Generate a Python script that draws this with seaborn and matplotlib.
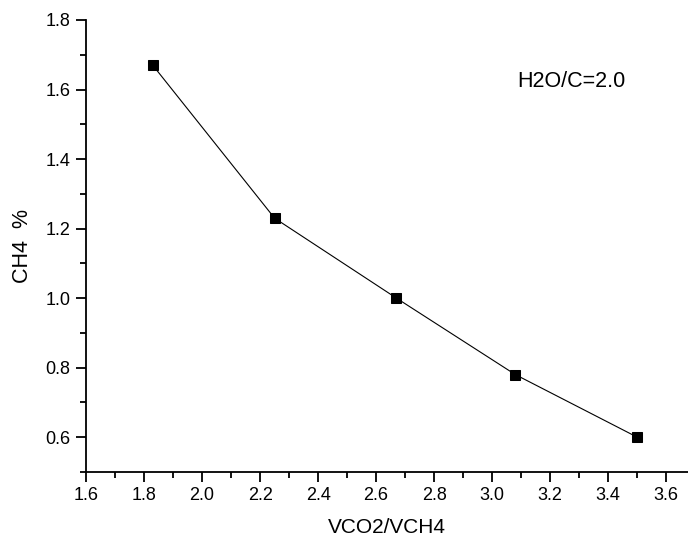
import matplotlib
matplotlib.use("Agg")
import matplotlib.pyplot as plt
from matplotlib.ticker import MultipleLocator
import seaborn as sns
import pandas as pd

# Methane content versus CO2/CH4 feed ratio at steam-to-carbon ratio 2.0
vco2_vch4 = [1.83, 2.25, 2.67, 3.08, 3.50]
ch4_pct = [1.67, 1.23, 1.00, 0.78, 0.60]

df = pd.DataFrame({"VCO2/VCH4": vco2_vch4, "CH4 %": ch4_pct})

sns.set_theme(style="ticks")
plt.rcParams["font.family"] = ["Liberation Sans", "DejaVu Sans"]

fig = plt.figure(figsize=(6.88, 5.40), dpi=100)
ax = fig.add_axes([0.125, 0.126, 0.875, 0.837])

sns.lineplot(data=df, x="VCO2/VCH4", y="CH4 %", ax=ax, color="black",
             linewidth=0.8, marker="s", markersize=7, markeredgecolor="black",
             markerfacecolor="black")

ax.set_xlim(1.6, 3.675)
ax.set_ylim(0.5, 1.8)
ax.xaxis.set_major_locator(MultipleLocator(0.2))
ax.xaxis.set_minor_locator(MultipleLocator(0.1))
ax.yaxis.set_minor_locator(MultipleLocator(0.1))
ax.set_yticks([0.6, 0.8, 1.0, 1.2, 1.4, 1.6, 1.8])
ax.xaxis.set_major_formatter(plt.FormatStrFormatter("%.1f"))
ax.yaxis.set_major_formatter(plt.FormatStrFormatter("%.1f"))

ax.tick_params(axis="both", which="major", direction="out", length=7,
               width=1.3, labelsize=13, color="black", labelcolor="black",
               pad=4)
ax.tick_params(axis="both", which="minor", direction="out", length=4.3,
               width=1.3, color="black")

for side in ("top", "right"):
    ax.spines[side].set_visible(False)
for side in ("left", "bottom"):
    ax.spines[side].set_linewidth(1.3)
    ax.spines[side].set_color("black")

ax.set_xlabel("VCO2/VCH4", fontsize=15, labelpad=10, color="black")
ax.set_ylabel("CH4  %", fontsize=15.5, labelpad=9, color="black")

ax.text(3.085, 1.623, "H2O/C=2.0", fontsize=15.5, va="center", ha="left",
        color="black")

fig.savefig("out.png", dpi=100)
